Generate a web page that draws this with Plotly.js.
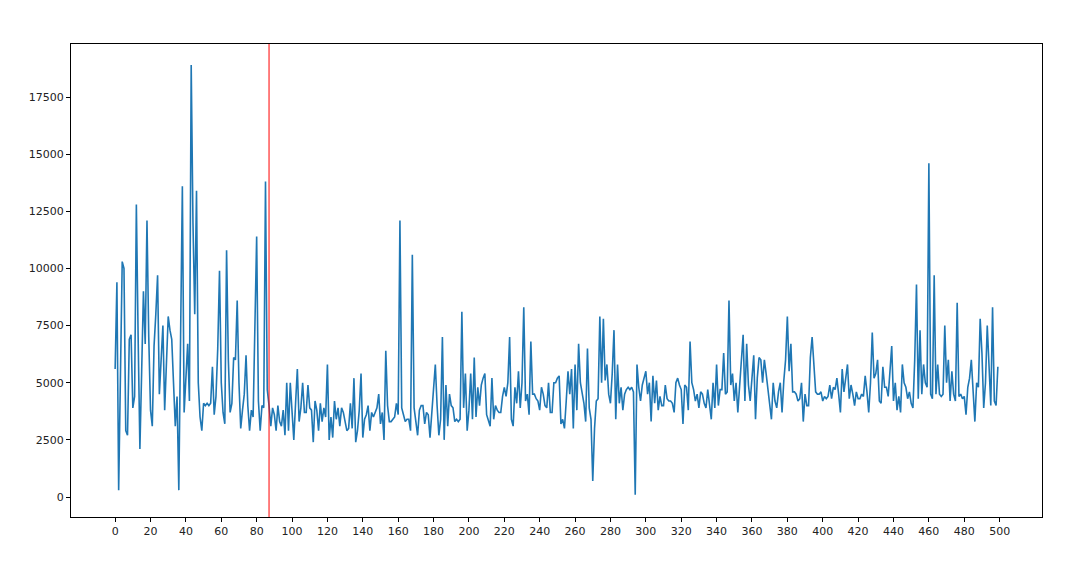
<!DOCTYPE html>
<html>
<head>
<meta charset="utf-8">
<script src="https://cdn.plot.ly/plotly-3.0.1.min.js"></script>
<style>html,body{margin:0;padding:0;background:#fff;}#chart{width:1080px;height:581px;}</style>
</head>
<body>
<div id="chart"></div>
<script>
// Series values (index 0..499)
const values = [
5600, 9400, 300, 6000, 10300, 10000, 2900, 2700, 6900, 7100,
3900, 4400, 12800, 7000, 2100, 5500, 9000, 6700, 12100, 7000,
3800, 3100, 6600, 8000, 9700, 4500, 6000, 7500, 3800, 5800,
7900, 7300, 6900, 5000, 3100, 4400, 300, 7000, 13600, 3700,
5500, 6700, 4200, 18900, 12000, 8000, 13400, 5000, 3500, 2900,
4100, 4000, 4100, 4000, 4100, 5700, 3600, 4400, 6500, 9900,
5000, 3700, 3200, 10800, 6000, 3700, 4100, 6100, 6000, 8600,
5000, 3000, 3800, 4500, 6200, 4000, 2900, 3800, 3500, 7000,
11400, 4200, 2900, 4000, 3900, 13800, 4700, 4000, 3100, 3900,
3600, 2900, 4000, 3300, 3100, 3800, 2700, 5000, 2900, 5000,
3900, 2500, 4100, 5600, 3300, 3900, 5000, 3700, 3700, 4900,
3900, 3800, 2400, 4200, 3800, 2900, 4100, 3300, 3900, 3500,
5800, 2500, 3500, 2600, 4200, 3400, 3900, 3100, 3900, 3700,
3300, 2900, 3000, 4100, 3000, 5200, 2400, 2900, 3800, 5400,
2600, 3400, 3600, 4000, 2900, 3700, 3500, 3700, 3900, 4500,
3200, 3700, 2500, 6400, 4000, 3300, 3300, 3400, 3500, 4100,
3600, 12100, 3900, 3600, 3300, 3400, 3400, 2900, 10600, 3900,
3300, 2700, 3800, 4000, 4000, 3200, 3700, 3600, 2600, 3800,
4600, 5800, 4000, 2700, 3400, 7000, 2500, 4900, 3100, 4500,
4000, 3900, 3300, 3400, 3300, 3400, 8100, 3900, 5400, 2900,
3800, 5400, 3400, 6100, 3500, 4800, 4000, 4900, 5200, 5400,
3600, 3300, 3100, 5200, 3400, 4000, 3800, 3700, 3700, 4400,
4800, 4400, 5000, 7000, 3400, 3100, 4800, 4100, 5500, 3900,
5000, 8300, 4200, 4500, 3600, 6800, 4500, 4500, 4300, 4200,
3800, 4800, 4500, 4000, 3900, 5000, 3700, 3700, 5000, 5000,
5200, 5300, 3200, 3400, 3000, 4200, 5500, 4500, 5600, 3000,
5800, 3800, 6700, 5000, 4500, 4100, 3300, 6500, 3900, 3400,
700, 3000, 4200, 4300, 7900, 5000, 7800, 5100, 5800, 4500,
4100, 5400, 7300, 3400, 5800, 4100, 4800, 3800, 4500, 4700,
4800, 4700, 4800, 4600, 100, 5800, 4800, 4200, 4900, 5200,
5500, 4500, 5000, 3300, 5300, 4100, 5100, 3800, 4400, 4000,
4000, 4900, 4300, 4200, 4200, 4100, 3700, 5000, 5200, 4900,
4700, 3200, 4900, 4800, 3800, 6800, 5000, 4700, 4200, 4500,
3900, 4600, 4500, 4100, 3900, 4700, 4100, 3400, 5000, 3900,
5800, 4000, 4700, 4700, 6300, 4500, 4600, 8600, 4900, 5400,
4200, 5000, 3700, 5000, 6300, 7100, 4200, 6700, 4900, 4200,
5200, 6200, 3400, 5200, 6100, 6000, 5000, 6000, 5400, 4700,
4000, 3400, 5000, 4200, 3900, 4600, 5000, 3700, 5100, 6000,
7900, 5500, 6700, 4600, 4600, 4500, 4200, 4300, 5000, 3300,
4500, 4000, 4000, 6100, 7000, 6000, 4600, 4500, 4500, 4600,
4200, 4400, 4300, 4400, 4900, 4300, 4800, 4700, 5200, 4500,
3700, 5600, 4600, 5200, 5800, 4300, 4900, 4500, 4000, 4600,
4300, 4300, 4500, 4400, 5300, 4600, 3700, 5000, 7200, 5200,
5400, 6000, 4200, 4100, 5700, 4800, 4800, 4400, 5800, 6600,
4200, 5000, 3800, 4400, 3700, 5800, 5000, 4800, 4300, 4600,
4100, 3900, 6000, 9300, 4300, 7300, 4500, 5800, 5000, 4800,
14600, 4500, 4300, 9700, 4500, 5800, 4500, 4400, 4500, 7500,
5000, 6000, 4200, 5500, 4500, 4200, 8500, 4400, 4500, 4300,
4400, 3600, 4800, 5200, 6000, 4500, 3300, 5000, 4800, 7800,
6300, 3900, 5000, 7500, 5800, 4000, 8300, 4200, 4000, 5700
];
const indices = values.map((_, i) => i);

// Vertical marker position
const splitIndex = 87;

// Tick labels
const xTickVals = [];
for (let t = 0; t <= 500; t += 20) xTickVals.push(t);
const yTickVals = [0, 2500, 5000, 7500, 10000, 12500, 15000, 17500];

const trace = {
  x: indices,
  y: values,
  type: 'scatter',
  mode: 'lines',
  line: {color: '#1f77b4', width: 1.6},
  hoverinfo: 'x+y'
};

const tickFont = {family: 'DejaVu Sans, sans-serif', size: 11, color: '#222'};

const layout = {
  width: 1080,
  height: 581,
  margin: {l: 71, r: 38, t: 44, b: 64, pad: 0},
  paper_bgcolor: '#ffffff',
  plot_bgcolor: '#ffffff',
  showlegend: false,
  xaxis: {
    range: [-24.95, 523.95],
    tickmode: 'array',
    tickvals: xTickVals,
    ticktext: xTickVals.map(String),
    ticks: 'outside',
    ticklen: 4,
    tickwidth: 1,
    tickcolor: '#000',
    showgrid: false,
    zeroline: false,
    showline: true,
    linecolor: '#000',
    linewidth: 1,
    mirror: true,
    tickfont: tickFont
  },
  yaxis: {
    range: [-875, 19820],
    tickmode: 'array',
    tickvals: yTickVals,
    ticktext: yTickVals.map(String),
    ticks: 'outside',
    ticklen: 4,
    tickwidth: 1,
    tickcolor: '#000',
    showgrid: false,
    zeroline: false,
    showline: true,
    linecolor: '#000',
    linewidth: 1,
    mirror: true,
    tickfont: tickFont
  },
  shapes: [{
    type: 'line',
    xref: 'x', yref: 'paper',
    x0: splitIndex, x1: splitIndex,
    y0: 0, y1: 1,
    line: {color: '#ff0000', width: 1}
  }]
};

Plotly.newPlot('chart', [trace], layout, {displayModeBar: false, staticPlot: true});
</script>
</body>
</html>
